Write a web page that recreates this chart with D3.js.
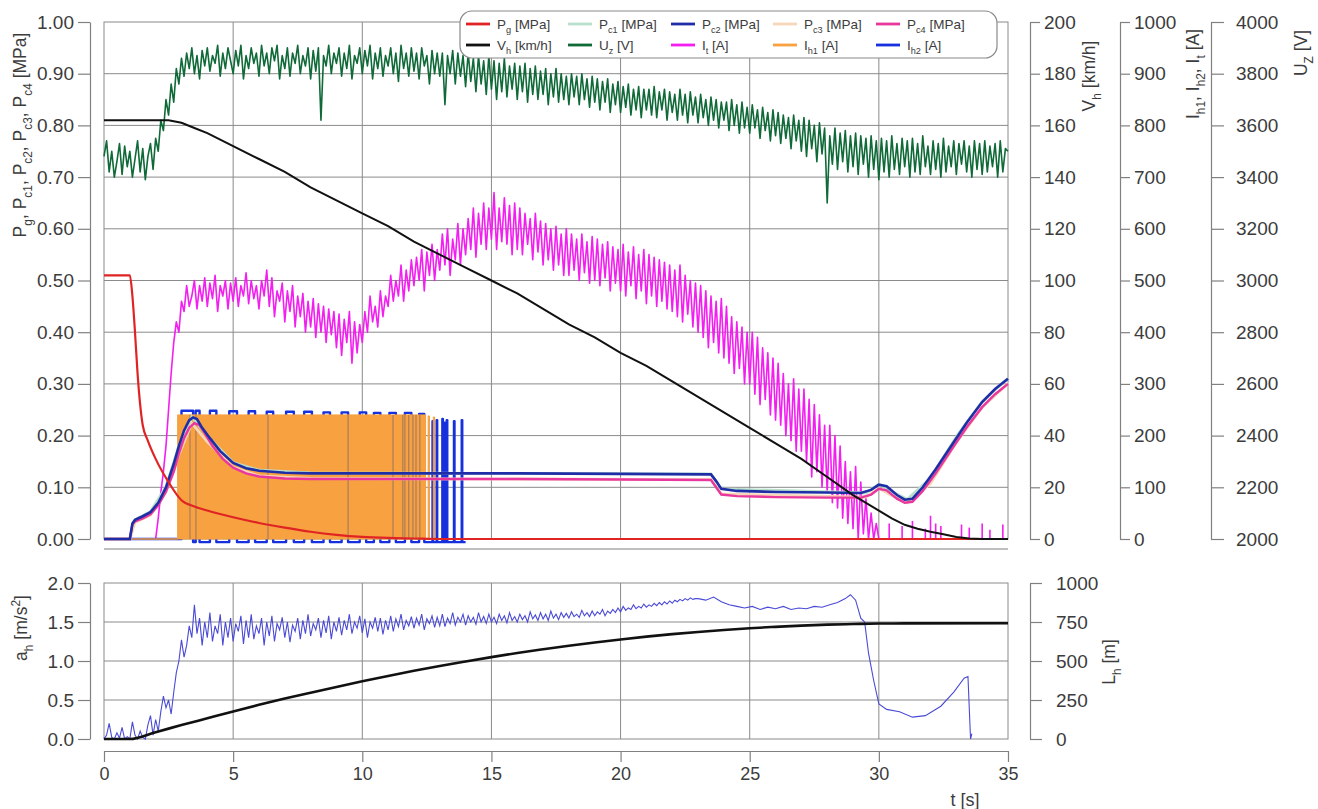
<!DOCTYPE html>
<html><head><meta charset="utf-8">
<script src="https://cdn.jsdelivr.net/npm/d3@7"></script>
<style>
body{margin:0;background:#fff}
svg text{font-family:"Liberation Sans",Arial,sans-serif;fill:#3c3c3c}
</style>
</head><body>
<svg id="c" width="1318" height="809"></svg>
<script>
// ---------------- DATA ----------------
const tTicks = [0,5,10,15,20,25,30,35];
const pTicks = [0,0.1,0.2,0.3,0.4,0.5,0.6,0.7,0.8,0.9,1.0];
const vTicks = [0,20,40,60,80,100,120,140,160,180,200];
const iTicks = [0,100,200,300,400,500,600,700,800,900,1000];
const uTicks = [2000,2200,2400,2600,2800,3000,3200,3400,3600,3800,4000];
const aTicks = [0,0.5,1.0,1.5,2.0];
const lTicks = [0,250,500,750,1000];

// Pg [MPa]
const pgT = [0,1.0,1.1,1.2,1.3,1.4,1.5,1.7,2.0,2.5,3.0,3.5,4,5,6,7,8,9,10,11,12,13,35];
const pgV = [0.51,0.51,0.47,0.40,0.32,0.26,0.22,0.19,0.155,0.11,0.075,0.063,0.055,0.042,0.031,0.022,0.014,0.008,0.004,0.002,0.001,0,0];

// Vh [km/h]
const vhT = [0,2.5,3,3.5,4,5,6,7,8,9,10,11,12,13,14,15,16,17,18,19,20,21,22,23,24,25,26,27,28,29,29.5,30,30.5,31,31.5,32,32.5,33,33.5,34,35];
const vhV = [162,162,161,159,157,152,147,142,136,131,126,121,115,110,105,100,95,89,83,78,72,67,61,55,49,43,37,31,24,17,14,11,8,5.5,4,2.8,1.8,0.8,0.2,0,0];

// Pc1..Pc4 [MPa]
const pc2T = [0,1.0,1.1,1.2,1.5,1.8,2.1,2.4,2.7,2.9,3.1,3.3,3.45,3.6,3.8,4.1,4.5,5,5.5,6,7,8,12,16,20,23.5,23.7,23.9,24.5,26,28,29.3,29.7,30.0,30.3,30.7,31.0,31.3,31.7,32.2,32.8,33.4,34,34.5,35];
const pc2V = [0,0,0.03,0.037,0.044,0.052,0.07,0.10,0.145,0.18,0.21,0.23,0.235,0.232,0.215,0.195,0.17,0.147,0.137,0.132,0.128,0.127,0.127,0.127,0.126,0.125,0.112,0.097,0.093,0.091,0.09,0.089,0.095,0.105,0.102,0.085,0.076,0.078,0.10,0.135,0.18,0.225,0.265,0.29,0.31];
const pc4T = [0,1.0,1.1,1.2,1.5,1.8,2.1,2.4,2.7,2.9,3.1,3.3,3.5,3.7,3.9,4.2,4.6,5,5.5,6,7,8,12,16,20,23.5,23.7,23.9,24.5,26,28,29.3,29.7,30.0,30.3,30.7,31.0,31.3,31.7,32.2,32.8,33.4,34,34.5,35];
const pc4V = [0,0,0.028,0.034,0.04,0.048,0.065,0.092,0.13,0.165,0.195,0.215,0.224,0.22,0.205,0.18,0.155,0.138,0.127,0.121,0.117,0.116,0.116,0.116,0.115,0.114,0.1,0.086,0.083,0.081,0.08,0.08,0.086,0.097,0.094,0.078,0.07,0.072,0.093,0.127,0.172,0.216,0.255,0.28,0.30];
const pc1T = [0,1.0,1.2,1.8,2.4,2.9,3.4,4.0,5,6,8,23.5,23.9,29.5,30.0,30.5,31.1,32,33,34,35];
const pc1V = [0,0,0.037,0.053,0.101,0.181,0.236,0.199,0.148,0.133,0.128,0.126,0.097,0.089,0.106,0.092,0.077,0.118,0.198,0.266,0.311];
const pc3T = [0,1.0,1.2,1.8,2.4,2.9,3.4,4.0,5,6,8,23.5,23.9,29.5,30.0,30.5,31.1,32,33,34,35];
const pc3V = [0,0,0.032,0.046,0.09,0.163,0.224,0.188,0.139,0.122,0.117,0.115,0.087,0.081,0.098,0.084,0.07,0.107,0.187,0.255,0.301];

// Uz [V], sampled every 0.1 s from t = 0
const uzT0 = 0, uzDt = 0.1;
const uzV = [
 3480,3540,3420,3500,3400,3460,3530,3410,3520,3440,
 3500,3400,3470,3540,3420,3510,3390,3480,3530,3430,
 3550,3500,3620,3580,3700,3640,3760,3690,3820,3760,
 3860,3790,3880,3820,3900,3800,3870,3780,3890,3830,
 3900,3810,3870,3840,3910,3790,3880,3820,3900,3850,
 3800,3890,3830,3910,3780,3870,3820,3900,3840,3880,
 3790,3910,3830,3880,3800,3900,3850,3910,3780,3870,
 3820,3900,3790,3880,3840,3910,3800,3870,3830,3900,
 3780,3890,3810,3900,3620,3870,3830,3910,3800,3880,
 3840,3900,3790,3880,3820,3910,3780,3870,3840,3900,
 3800,3890,3830,3910,3780,3880,3820,3900,3790,3870,
 3830,3900,3800,3880,3770,3910,3820,3880,3790,3900,
 3810,3880,3780,3900,3830,3870,3760,3890,3800,3880,
 3790,3880,3680,3870,3800,3890,3760,3880,3790,3870,
 3750,3880,3770,3860,3730,3870,3760,3850,3720,3870,
 3740,3850,3700,3840,3730,3860,3710,3830,3740,3840,
 3700,3830,3730,3840,3690,3820,3720,3830,3700,3810,
 3720,3820,3680,3800,3710,3820,3690,3800,3700,3790,
 3680,3800,3710,3790,3680,3800,3700,3780,3670,3790,
 3690,3780,3660,3770,3690,3780,3650,3760,3680,3770,
 3650,3750,3670,3760,3640,3740,3660,3750,3630,3740,
 3660,3740,3640,3750,3630,3730,3660,3740,3620,3730,
 3650,3720,3620,3740,3640,3720,3610,3730,3640,3710,
 3610,3720,3630,3700,3600,3710,3620,3700,3590,3690,
 3620,3690,3580,3700,3600,3680,3570,3690,3590,3670,
 3570,3680,3590,3660,3550,3670,3580,3650,3540,3660,
 3560,3650,3530,3640,3550,3630,3510,3640,3540,3620,
 3500,3630,3480,3620,3510,3600,3460,3610,3490,3590,
 3300,3560,3450,3590,3430,3570,3460,3580,3420,3560,
 3440,3570,3410,3560,3450,3550,3400,3560,3430,3540,
 3390,3550,3420,3540,3400,3560,3430,3530,3410,3550,
 3440,3540,3400,3550,3420,3530,3410,3560,3440,3520,
 3410,3540,3430,3530,3400,3550,3420,3520,3440,3540,
 3410,3530,3450,3540,3420,3520,3400,3540,3430,3530,
 3410,3540,3420,3520,3440,3530,3400,3540,3420,3510,
 3500];

// It [A], sampled every 0.1 s from t = 0 to 30
const itT0 = 0, itDt = 0.1;
const itV = [
 0,0,0,0,0,0,0,0,0,0,
 0,0,0,0,0,0,0,0,0,0,
 0,40,90,130,180,250,320,380,420,400,
 460,440,490,450,470,500,445,490,460,505,
 450,495,465,510,440,490,470,500,445,495,
 460,505,450,490,470,515,455,500,465,490,
 445,500,470,520,450,505,430,480,460,495,
 420,480,440,490,410,470,430,475,400,460,
 410,465,390,455,400,450,380,445,395,440,
 370,435,355,425,380,440,340,420,360,415,
 380,440,400,470,420,450,410,480,430,470,
 450,510,460,500,470,530,460,520,480,540,
 490,545,500,560,480,555,510,570,500,560,
 520,590,530,600,510,580,540,610,530,600,
 550,620,560,640,545,630,570,650,560,640,
 580,670,560,640,575,660,570,645,550,650,
 560,640,550,630,570,620,540,630,555,615,
 530,610,540,600,520,605,530,590,510,600,
 510,590,520,580,500,590,515,575,495,585,
 500,580,490,570,505,575,480,565,495,560,
 480,570,470,555,490,565,465,550,480,560,
 455,550,470,545,450,540,460,535,445,530,
 440,520,430,530,420,510,435,500,410,495,
 400,490,390,480,370,470,380,460,360,465,
 350,450,340,430,320,420,330,410,300,400,
 300,400,280,390,260,370,270,360,240,350,
 230,340,220,320,200,300,190,310,170,290,
 170,290,150,270,120,260,130,240,100,220,
 90,220,70,200,60,180,40,150,30,130,
 20,140,0,110,10,80,0,50,0,30,
 0];
// It spikes after 30 s: [t, A]
const itSpikes = [[30.4,30],[30.9,25],[31.3,35],[31.8,20],[32.0,45],[32.2,30],[32.4,25],[33.2,28],[33.5,22],[34.0,30],[34.3,18],[34.8,28]];

// Ih1 [A] (orange, fast switching -> filled)
const ih1T = [0,2.85,2.85,12.45,12.45,12.55,12.55,12.6,12.6,12.75,12.75,12.8,12.8,35];
const ih1V = [0,0,240,240,0,0,238,238,0,0,236,236,0,0];
const ih1Dips = [3.33,3.56,6.35,9.45,11.19,11.57,11.65,11.8,11.96,12.08,12.23];

// Ih2 [A]: high intervals [start, end, level]; low level between
const ih2Low = -6;
const ih2Hi = [[3.0,3.45,248],[3.55,3.7,248],[4.1,4.35,248],[4.85,5.15,247],[5.6,5.85,247],[6.3,6.55,246],[7.05,7.35,246],[7.75,8.05,246],[8.5,8.75,245],[9.2,9.45,245],[9.9,10.15,245],[10.45,10.7,244],[11.05,11.3,244],[11.65,11.9,244],[12.2,12.4,242],[12.72,12.74,228],[12.88,12.9,230],[13.1,13.12,232],[13.18,13.2,225],[13.27,13.29,230],[13.55,13.57,228],[13.85,13.87,230]];
const ih2End = 14.0;

// a_h [m/s^2], sampled every 0.1 s from 0 to 23 s, then tail points
const ahT0 = 0, ahDt = 0.1;
const ahV = [
 0.00,0.05,0.20,0.02,0.00,0.08,0.01,0.15,0.00,0.03,
 0.00,0.22,0.05,0.00,0.10,0.02,0.00,0.18,0.30,0.05,
 0.25,0.10,0.35,0.55,0.40,0.50,0.32,0.60,0.85,1.00,
 1.27,1.05,1.20,1.45,1.30,1.72,1.35,1.55,1.20,1.50,
 1.30,1.62,1.25,1.45,1.35,1.60,1.20,1.50,1.30,1.55,
 1.25,1.48,1.38,1.58,1.22,1.52,1.30,1.60,1.28,1.45,
 1.35,1.55,1.20,1.50,1.32,1.58,1.25,1.48,1.40,1.56,
 1.30,1.50,1.24,1.46,1.38,1.55,1.28,1.52,1.35,1.60,
 1.32,1.48,1.40,1.55,1.30,1.52,1.36,1.58,1.28,1.50,
 1.38,1.56,1.33,1.52,1.40,1.60,1.35,1.50,1.42,1.58,
 1.36,1.54,1.30,1.50,1.42,1.56,1.38,1.55,1.34,1.52,
 1.40,1.58,1.38,1.54,1.44,1.60,1.40,1.52,1.45,1.57,
 1.42,1.55,1.46,1.60,1.40,1.54,1.48,1.58,1.43,1.56,
 1.45,1.60,1.44,1.55,1.48,1.62,1.46,1.56,1.50,1.60,
 1.46,1.58,1.50,1.56,1.47,1.62,1.50,1.57,1.48,1.60,
 1.50,1.56,1.48,1.60,1.52,1.58,1.49,1.62,1.52,1.57,
 1.50,1.60,1.53,1.58,1.50,1.63,1.54,1.59,1.52,1.62,
 1.54,1.60,1.52,1.64,1.55,1.60,1.53,1.62,1.56,1.61,
 1.55,1.63,1.57,1.60,1.56,1.65,1.58,1.62,1.57,1.64,
 1.58,1.63,1.60,1.66,1.58,1.64,1.61,1.66,1.62,1.68,
 1.63,1.70,1.65,1.68,1.66,1.72,1.67,1.70,1.68,1.73,
 1.69,1.72,1.70,1.74,1.71,1.75,1.72,1.76,1.73,1.77,
 1.74,1.78,1.76,1.79,1.77,1.80,1.78,1.81,1.79,1.80,
 1.80];
const ahTailT = [23.3,23.6,23.9,24.2,24.5,24.8,25.1,25.4,25.7,26.0,26.3,26.6,26.9,27.2,27.5,27.8,28.1,28.4,28.7,28.9,29.1,29.3,29.45,29.6,29.8,30.0,30.3,30.8,31.3,31.8,32.4,32.9,33.3,33.45,33.55,33.6];
const ahTailV = [1.78,1.82,1.76,1.72,1.70,1.68,1.70,1.66,1.69,1.67,1.70,1.66,1.68,1.67,1.70,1.69,1.72,1.75,1.80,1.85,1.78,1.55,1.50,1.10,0.75,0.45,0.38,0.35,0.28,0.30,0.42,0.60,0.78,0.80,0.0,0.07];

// L_h [m]
const lhT = [0,1,2,3,4,5,6,7,8,9,10,11,12,13,14,15,16,17,18,19,20,21,22,23,24,25,26,27,28,29,30,31,35];
const lhV = [0,0,44,89,133,177,219,259,297,334,370,404,437,468,497,525,551,575,598,619,638,656,672,686,699,710,719,727,733,737,740,741,742];

// Legend
const legendLabels = [
 [["P",0],["g",1],[" [MPa]",0]], [["P",0],["c1",1],[" [MPa]",0]], [["P",0],["c2",1],[" [MPa]",0]], [["P",0],["c3",1],[" [MPa]",0]], [["P",0],["c4",1],[" [MPa]",0]],
 [["V",0],["h",1],[" [km/h]",0]], [["U",0],["z",1],[" [V]",0]], [["I",0],["t",1],[" [A]",0]], [["I",0],["h1",1],[" [A]",0]], [["I",0],["h2",1],[" [A]",0]]
];
const C = {pg:"#e02424", vh:"#111111", pc1:"#b9e0cc", uz:"#0f6a38", pc2:"#1f2ea6", it:"#f21ff0", pc3:"#f8d6b8", ih1:"#f7a140", pc4:"#e8389e", ih2:"#1530dc", ah:"#4a4ad6", lh:"#111111"};
const legendColors = [C.pg,C.pc1,C.pc2,C.pc3,C.pc4,C.vh,C.uz,C.it,C.ih1,C.ih2];

// ---------------- DRAW ----------------
const svg = d3.select("#c");
const x = d3.scaleLinear().domain([0,35]).range([104,1008]);
const yP = d3.scaleLinear().domain([0,1]).range([539,22]);
const yV = d3.scaleLinear().domain([0,200]).range([539,22]);
const yI = d3.scaleLinear().domain([0,1000]).range([539,22]);
const yU = d3.scaleLinear().domain([2000,4000]).range([539,22]);
const yA = d3.scaleLinear().domain([0,2]).range([739,583]);
const yL = d3.scaleLinear().domain([0,1000]).range([739,583]);

const GRID = "#8a8a8a", AX = "#808080";
const TF = 19;

function rich(textSel, segs, size){
  let cur = 0;
  segs.forEach(([s,k])=>{
    const off = k===1 ? size*0.32 : (k===2 ? -size*0.42 : 0);
    textSel.append("tspan").attr("dy", off-cur).attr("font-size", k ? size*0.68 : size).text(s);
    cur = off;
  });
}

function panel(yScale, ticks, top, bot){
  const g = svg.append("g");
  g.selectAll(".vg").data(tTicks.slice(1,-1)).join("line")
    .attr("x1",d=>x(d)).attr("x2",d=>x(d)).attr("y1",top).attr("y2",bot)
    .attr("stroke",GRID).attr("stroke-width",1);
  g.selectAll(".hg").data(ticks.slice(1,-1)).join("line")
    .attr("x1",x(0)).attr("x2",x(35)).attr("y1",d=>yScale(d)).attr("y2",d=>yScale(d))
    .attr("stroke",GRID).attr("stroke-width",1);
  g.append("rect").attr("x",x(0)).attr("y",top).attr("width",x(35)-x(0)).attr("height",bot-top)
    .attr("fill","none").attr("stroke",GRID).attr("stroke-width",1);
}
panel(yP, pTicks, 22, 539);
panel(yA, aTicks, 583, 739);

function styleAxis(g, size){
  g.select(".domain").attr("stroke",AX).attr("stroke-width",1.2);
  g.selectAll(".tick line").attr("stroke",AX).attr("stroke-width",1.2);
  g.selectAll(".tick text").attr("font-size",size).attr("fill","#3c3c3c")
    .attr("font-family",'"Liberation Sans",Arial,sans-serif');
}
const fi = d3.format("d");
styleAxis(svg.append("g").attr("transform","translate(90,0)")
  .call(d3.axisLeft(yP).tickValues(pTicks).tickFormat(d3.format(".2f")).tickSize(12).tickSizeOuter(0).tickPadding(4)), TF);
styleAxis(svg.append("g").attr("transform","translate(90,0)")
  .call(d3.axisLeft(yA).tickValues(aTicks).tickFormat(d3.format(".1f")).tickSize(12).tickSizeOuter(0).tickPadding(4)), TF);
styleAxis(svg.append("g").attr("transform","translate(1030,0)")
  .call(d3.axisRight(yV).tickValues(vTicks).tickFormat(fi).tickSize(10).tickSizeOuter(0).tickPadding(4)), TF);
styleAxis(svg.append("g").attr("transform","translate(1120,0)")
  .call(d3.axisRight(yI).tickValues(iTicks).tickFormat(fi).tickSize(10).tickSizeOuter(0).tickPadding(4)), TF);
styleAxis(svg.append("g").attr("transform","translate(1211,0)")
  .call(d3.axisRight(yU).tickValues(uTicks).tickFormat(fi).tickSize(13).tickSizeOuter(0).tickPadding(12)), TF);
styleAxis(svg.append("g").attr("transform","translate(1030,0)")
  .call(d3.axisRight(yL).tickValues(lTicks).tickFormat(fi).tickSize(12).tickSizeOuter(0).tickPadding(14)), TF);
styleAxis(svg.append("g").attr("transform","translate(0,751)")
  .call(d3.axisBottom(x).tickValues(tTicks).tickFormat(fi).tickSize(11).tickSizeOuter(0).tickPadding(5)), 18);
svg.append("line").attr("x1",x(0)).attr("x2",x(35)).attr("y1",549).attr("y2",549).attr("stroke",AX).attr("stroke-width",1.2);

function title(xp, yp, segs, size){
  const t = svg.append("text").attr("transform",`translate(${xp},${yp}) rotate(-90)`).attr("text-anchor","middle").attr("font-size",size);
  rich(t, segs, size);
}
title(26,135,[["P",0],["g",1],[", P",0],["c1",1],[", P",0],["c2",1],[", P",0],["c3",1],[", P",0],["c4",1],[" [MPa]",0]],17.5);
title(1095,76,[["V",0],["h",1],[" [km/h]",0]],17.5);
title(1199,74,[["I",0],["h1",1],[", I",0],["h2",1],[", I",0],["t",1],[" [A]",0]],17.5);
title(1307,53,[["U",0],["Z",1],[" [V]",0]],17.5);
title(27,628,[["a",0],["h",1],[" [m/s",0],["2",2],["]",0]],17.5);
title(1115,662,[["L",0],["h",1],[" [m]",0]],17.5);
svg.append("text").attr("x",965).attr("y",806).attr("text-anchor","middle").attr("font-size",18).text("t [s]");

// ---------- series (top panel) ----------
const lineXY = (ys)=>d3.line().x(d=>x(d[0])).y(d=>ys(d[1]));
const uniform = (t0,dt,vals)=>vals.map((v,i)=>[t0+i*dt, v]);
const plot = svg.append("g");

plot.append("path").datum(uniform(uzT0,uzDt,uzV)).attr("d",lineXY(yU))
  .attr("fill","none").attr("stroke",C.uz).attr("stroke-width",1.6).attr("stroke-linejoin","round");
plot.append("path").datum(uniform(itT0,itDt,itV)).attr("d",lineXY(yI))
  .attr("fill","none").attr("stroke",C.it).attr("stroke-width",1.6).attr("stroke-linejoin","round");
plot.selectAll(".its").data(itSpikes).join("line")
  .attr("x1",d=>x(d[0])).attr("x2",d=>x(d[0])).attr("y1",yI(0)).attr("y2",d=>yI(d[1]))
  .attr("stroke",C.it).attr("stroke-width",1.6);

// Ih2 square wave
const ih2Pts = [[0,0],[ih2Hi[0][0],0]];
ih2Hi.forEach(([a,b,h],i)=>{
  ih2Pts.push([a, i===0?0:ih2Low],[a,h],[b,h],[b,ih2Low]);
  const nxt = i<ih2Hi.length-1 ? ih2Hi[i+1][0] : ih2End;
  ih2Pts.push([nxt, ih2Low]);
});
plot.append("path").datum(ih2Pts).attr("d",lineXY(yI))
  .attr("fill","none").attr("stroke",C.ih2).attr("stroke-width",2.4).attr("stroke-linejoin","round");

// Ih1 orange fill
plot.append("path").datum(d3.zip(ih1T, ih1V))
  .attr("d",d3.area().x(d=>x(d[0])).y0(yI(0)).y1(d=>yI(d[1])))
  .attr("fill",C.ih1).attr("stroke",C.ih1).attr("stroke-width",1);
plot.selectAll(".dip").data(ih1Dips).join("line")
  .attr("x1",d=>x(d)).attr("x2",d=>x(d)).attr("y1",yI(0)).attr("y2",yI(240))
  .attr("stroke","#7b6470").attr("stroke-width",0.9).attr("opacity",0.8);

// pressures
plot.append("path").datum(d3.zip(pc1T,pc1V)).attr("d",lineXY(yP)).attr("fill","none").attr("stroke",C.pc1).attr("stroke-width",2.8);
plot.append("path").datum(d3.zip(pc3T,pc3V)).attr("d",lineXY(yP)).attr("fill","none").attr("stroke",C.pc3).attr("stroke-width",2.8);
plot.append("path").datum(d3.zip(pc4T,pc4V)).attr("d",lineXY(yP)).attr("fill","none").attr("stroke",C.pc4).attr("stroke-width",2.4);
plot.append("path").datum(d3.zip(pc2T,pc2V)).attr("d",lineXY(yP)).attr("fill","none").attr("stroke",C.pc2).attr("stroke-width",2.6);
plot.append("path").datum(d3.zip(pgT,pgV)).attr("d",lineXY(yP).curve(d3.curveMonotoneX)).attr("fill","none").attr("stroke",C.pg).attr("stroke-width",2.2);
plot.append("path").datum(d3.zip(vhT,vhV)).attr("d",lineXY(yV)).attr("fill","none").attr("stroke",C.vh).attr("stroke-width",2);

// ---------- bottom panel ----------
const ahPts = uniform(ahT0,ahDt,ahV).concat(d3.zip(ahTailT,ahTailV));
svg.append("path").datum(ahPts).attr("d",lineXY(yA)).attr("fill","none").attr("stroke",C.ah).attr("stroke-width",1.1);
svg.append("path").datum(d3.zip(lhT,lhV)).attr("d",lineXY(yL).curve(d3.curveMonotoneX)).attr("fill","none").attr("stroke",C.lh).attr("stroke-width",2.6);

// ---------- legend ----------
const lg = svg.append("g");
lg.append("rect").attr("x",460).attr("y",11).attr("width",537).attr("height",47).attr("rx",12)
  .attr("fill","#fff").attr("stroke","#8a8a8a").attr("stroke-width",1.2);
const colX = [466,568,671,773,876];
legendLabels.forEach((segs,i)=>{
  const cx = colX[i%5], cy = i<5 ? 24 : 45;
  lg.append("line").attr("x1",cx).attr("x2",cx+24).attr("y1",cy).attr("y2",cy)
    .attr("stroke",legendColors[i]).attr("stroke-width",2.8);
  const t = lg.append("text").attr("x",cx+31).attr("y",cy+4.5).attr("font-size",13.5);
  rich(t, segs, 13.5);
});
</script>
</body></html>
